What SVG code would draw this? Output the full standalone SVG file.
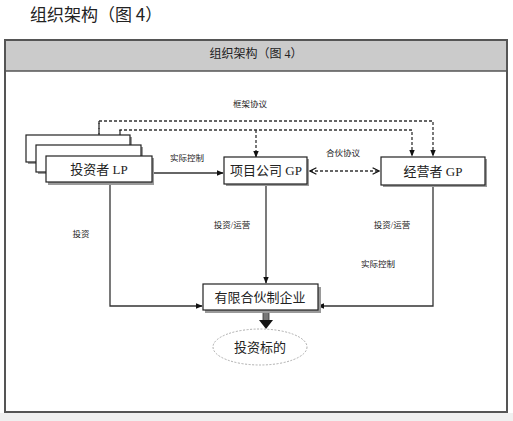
<svg xmlns="http://www.w3.org/2000/svg" width="513" height="421" viewBox="0 0 513 421">
<defs>
<style>
.t{font-family:"Liberation Serif","Noto Sans CJK SC",serif;fill:#222}
.s{font-size:8.5px}
.b{font-size:13px}
.box{fill:#fff;stroke:#222;stroke-width:1.2}
.sh{fill:#9a9a9a}
.ln{fill:none;stroke:#333;stroke-width:1.3}
.dl{fill:none;stroke:#333;stroke-width:1.3;stroke-dasharray:3 2}
</style>
<marker id="ah" viewBox="0 0 10 10" refX="9" refY="5" markerWidth="7" markerHeight="7" orient="auto-start-reverse" markerUnits="userSpaceOnUse"><path d="M0,1 L10,5 L0,9 z" fill="#111"/></marker>
<marker id="oa" viewBox="0 0 10 10" refX="9" refY="5" markerWidth="8" markerHeight="8" orient="auto-start-reverse" markerUnits="userSpaceOnUse"><path d="M1,1 L9,5 L1,9" fill="none" stroke="#111" stroke-width="1.5"/></marker>
</defs>
<rect width="513" height="421" fill="#fff"/>
<rect x="0" y="413" width="513" height="8" fill="#f0f0f0"/>
<text x="30" y="21" font-family="'Noto Sans CJK SC',sans-serif" font-size="17" fill="#222">组织架构（图 4）</text>
<g id="frame">
<rect x="5" y="40" width="502" height="31" fill="#cbcbcb"/>
<rect x="5" y="40" width="502" height="372" fill="none" stroke="#555" stroke-width="2"/>
<line x1="5" y1="71" x2="507" y2="71" stroke="#555" stroke-width="1.5"/>
<text class="t" x="256" y="58" font-size="12" text-anchor="middle">组织架构（图 4）</text>
</g>
<g id="connectors">
<polyline class="dl" points="99,156 99,121 433,121 433,156" marker-end="url(#ah)"/>
<line class="dl" x1="99" y1="121" x2="99" y2="156" marker-end="url(#ah)"/>
<polyline class="dl" points="120,156 120,130 412,130 412,156" marker-end="url(#ah)"/>
<line class="dl" x1="120" y1="130" x2="120" y2="156" marker-end="url(#ah)"/>
<line class="dl" x1="256" y1="130" x2="256" y2="157" marker-end="url(#ah)"/>
<line class="dl" x1="310" y1="171" x2="379" y2="171" marker-start="url(#oa)" marker-end="url(#oa)"/>
<line class="ln" x1="152" y1="173" x2="223" y2="173" marker-end="url(#ah)"/>
<polyline class="ln" points="110,182 110,306 202,306" marker-end="url(#ah)"/>
<line class="ln" x1="266" y1="184" x2="266" y2="283" marker-end="url(#ah)"/>
<polyline class="ln" points="433,185 433,306 318,306" marker-end="url(#ah)"/>
<rect x="263" y="310" width="6" height="11" fill="#777" stroke="#333" stroke-width="0.8"/>
<path d="M259,320 L273,320 L266,329 z" fill="#111"/>
<text class="t s" x="250" y="107" text-anchor="middle">框架协议</text>
<text class="t s" x="187" y="161" text-anchor="middle">实际控制</text>
<text class="t s" x="343" y="156" text-anchor="middle">合伙协议</text>
<text class="t s" x="81" y="237" text-anchor="middle">投资</text>
<text class="t s" x="232" y="228" text-anchor="middle">投资/运营</text>
<text class="t s" x="392" y="228" text-anchor="middle">投资/运营</text>
<text class="t s" x="378" y="267" text-anchor="middle">实际控制</text>
</g>
<g id="lp">
<rect class="sh" x="28" y="137" width="104" height="27"/>
<rect class="box" x="26" y="135" width="104" height="27"/>
<rect class="sh" x="38" y="147" width="105" height="27"/>
<rect class="box" x="36" y="145" width="105" height="27"/>
<rect class="sh" x="48" y="158" width="106" height="27"/>
<rect class="box" x="46" y="156" width="106" height="26"/>
<text class="t b" x="99" y="174" text-anchor="middle">投资者 LP</text>
</g>
<g id="project-gp">
<rect class="sh" x="226" y="159" width="83" height="27"/>
<rect class="box" x="224" y="157" width="83" height="27"/>
<text class="t b" x="266" y="175" text-anchor="middle">项目公司 GP</text>
</g>
<g id="operator-gp">
<rect class="sh" x="383" y="159" width="104" height="28"/>
<rect class="box" x="381" y="157" width="104" height="28"/>
<text class="t b" x="433" y="176" text-anchor="middle">经营者 GP</text>
</g>
<g id="lpf">
<rect class="sh" x="205" y="287" width="116" height="26"/>
<rect class="box" x="203" y="284" width="115" height="26"/>
<text class="t b" x="260" y="302" text-anchor="middle">有限合伙制企业</text>
</g>
<g id="target">
<ellipse cx="260" cy="347" rx="47" ry="18" fill="#fff" stroke="#999" stroke-width="0.8" stroke-dasharray="2 1.5"/>
<text class="t b" x="260" y="352" text-anchor="middle">投资标的</text>
</g>
</svg>
